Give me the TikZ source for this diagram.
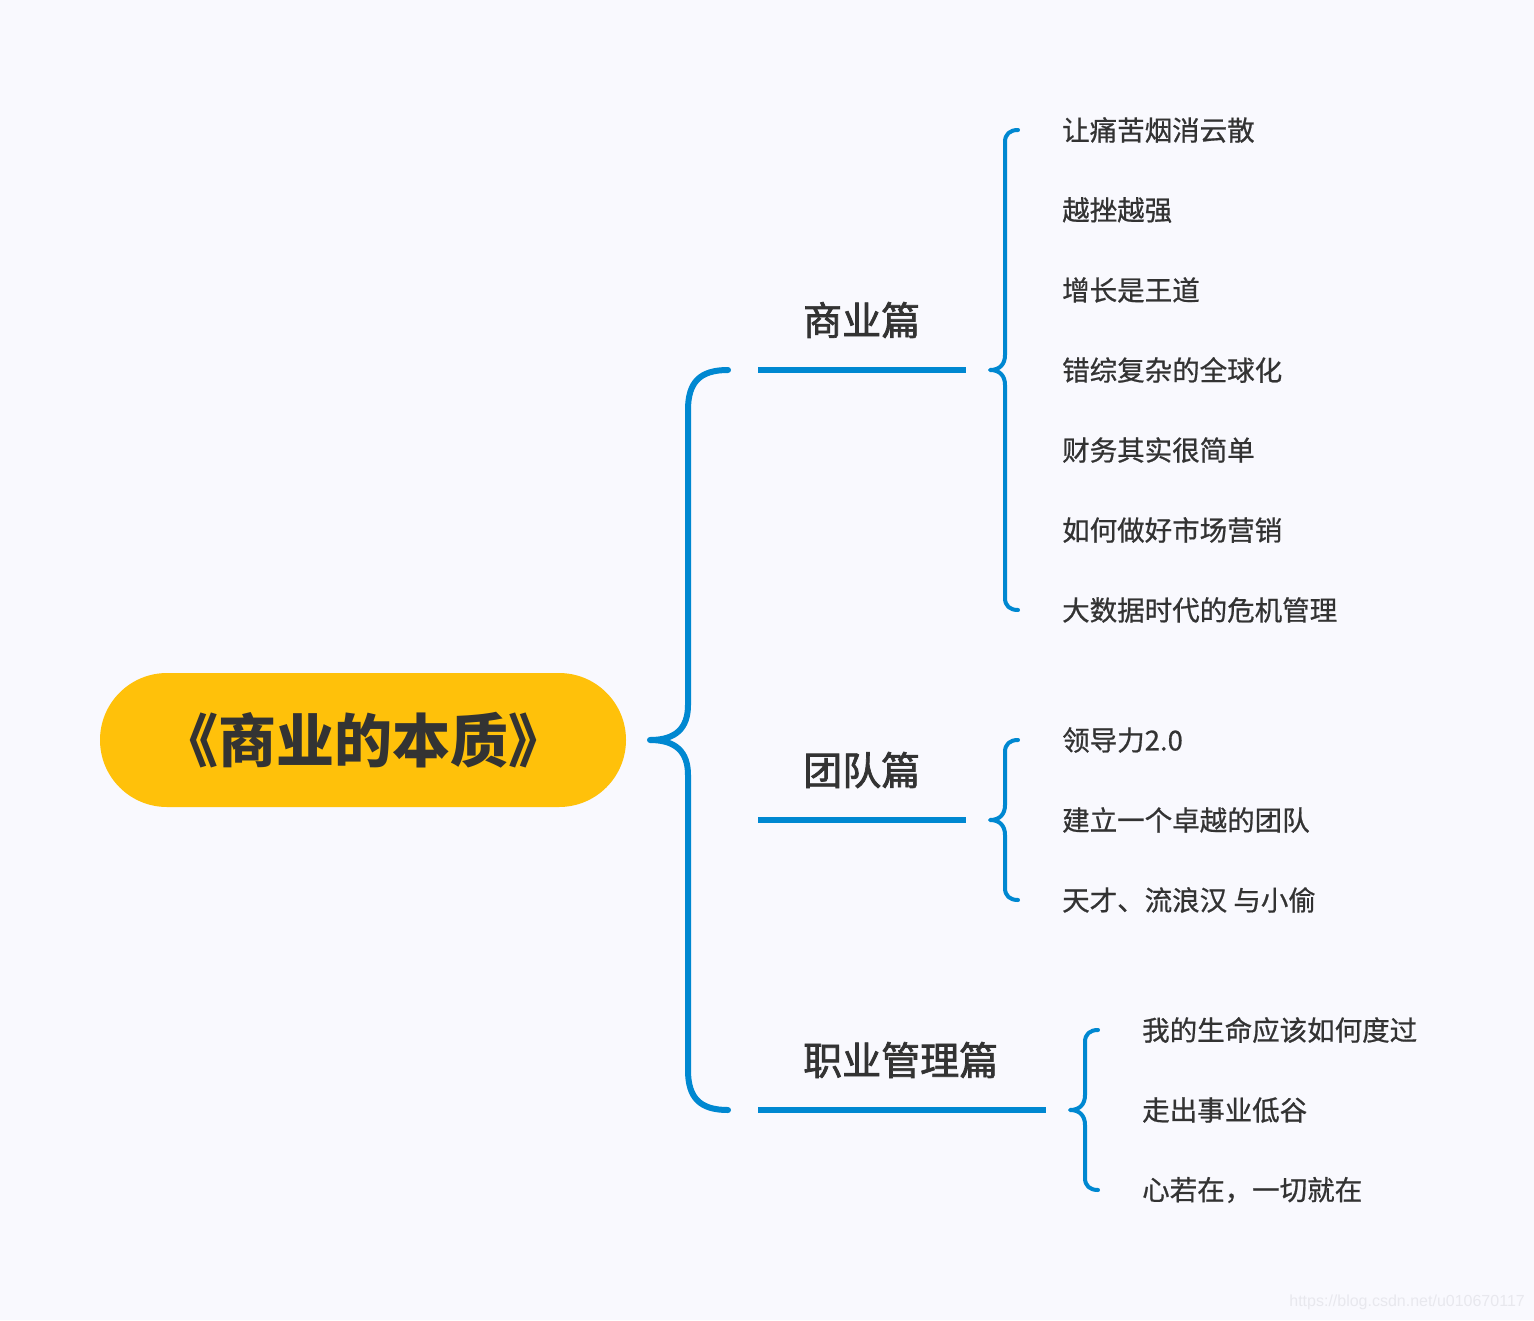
\documentclass[tikz,border=0pt]{standalone}
\usepackage{fontspec}
\newfontfamily\cjk{Noto Sans CJK SC}
\newfontfamily\cjkmed{Noto Sans CJK SC}[FakeBold=0.7]
\newfontfamily\cjksemi{Noto Sans CJK SC}[FakeBold=1.8]
\setsansfont{Liberation Sans}
\definecolor{bg}{HTML}{F9F9FE}
\definecolor{brblue}{HTML}{0088D1}
\definecolor{rootyel}{HTML}{FFC10A}
\definecolor{txt}{HTML}{333333}
\definecolor{wm}{HTML}{E8E8EE}
\begin{document}
\begin{tikzpicture}[x=1pt,y=-1pt,
  leaf/.style={anchor=west,inner sep=0pt,text=txt,font={\cjkmed\fontsize{27.5}{27.5}\selectfont}},
  branchlbl/.style={anchor=west,inner sep=0pt,text=txt,font={\cjksemi\fontsize{39}{39}\selectfont}},
  bigbrace/.style={draw=brblue,line width=6pt,line cap=round,line join=round},
  smallbrace/.style={draw=brblue,line width=4pt,line cap=round,line join=round},
  uline/.style={draw=brblue,line width=6pt}]
\fill[bg] (0,0) rectangle (1534,1320);
\useasboundingbox (0,0) rectangle (1534,1320);

% root
\node[fill=rootyel,rounded corners=67pt,minimum width=526pt,minimum height=134pt,inner sep=0pt,
  text=txt,font={\cjk\bfseries\fontsize{58}{58}\selectfont}] (root) at (363,740) {《商业的本质》};

% big brace
\coordinate (bt) at (650,740);
\coordinate (b1end) at (728,370);
\coordinate (b2end) at (728,1110);
\draw[bigbrace] (b1end) .. controls (700,370) and (688,382) .. (688,410) -- (688,705)
  .. controls (688,728) and (676,740) .. (bt)
  .. controls (676,740) and (688,752) .. (688,775) -- (688,1070)
  .. controls (688,1098) and (700,1110) .. (b2end);

% branch labels and underlines
\node[branchlbl] (b1) at (803,320) {商业篇};
\node[branchlbl] (b2) at (803,770) {团队篇};
\node[branchlbl] (b3) at (803,1060) {职业管理篇};
\coordinate (u1s) at (758,370); \coordinate (u1e) at (966,370);
\coordinate (u2s) at (758,820); \coordinate (u2e) at (966,820);
\coordinate (u3s) at (758,1110); \coordinate (u3e) at (1046,1110);
\draw[uline] (u1s) -- (u1e);
\draw[uline] (u2s) -- (u2e);
\draw[uline] (u3s) -- (u3e);

% brace 1
\coordinate (t1) at (990,370);
\draw[smallbrace] (1018,130) .. controls (1010,130) and (1005,134) .. (1005,142) -- (1005,355)
  .. controls (1005,364) and (1000,370) .. (t1)
  .. controls (1000,370) and (1005,376) .. (1005,385) -- (1005,598)
  .. controls (1005,606) and (1010,610) .. (1018,610);
\node[leaf] (l11) at (1062,130) {让痛苦烟消云散};
\node[leaf] (l12) at (1062,210) {越挫越强};
\node[leaf] (l13) at (1062,290) {增长是王道};
\node[leaf] (l14) at (1062,370) {错综复杂的全球化};
\node[leaf] (l15) at (1062,450) {财务其实很简单};
\node[leaf] (l16) at (1062,530) {如何做好市场营销};
\node[leaf] (l17) at (1062,610) {大数据时代的危机管理};

% brace 2
\coordinate (t2) at (990,820);
\draw[smallbrace] (1018,740) .. controls (1010,740) and (1005,744) .. (1005,752) -- (1005,805)
  .. controls (1005,814) and (1000,820) .. (t2)
  .. controls (1000,820) and (1005,826) .. (1005,835) -- (1005,888)
  .. controls (1005,896) and (1010,900) .. (1018,900);
\node[leaf] (l21) at (1062,740) {领导力2.0};
\node[leaf] (l22) at (1062,820) {建立一个卓越的团队};
\node[leaf] (l23) at (1062,900) {天才、流浪汉 与小偷};

% brace 3
\coordinate (t3) at (1070,1110);
\draw[smallbrace] (1098,1030) .. controls (1090,1030) and (1085,1034) .. (1085,1042) -- (1085,1095)
  .. controls (1085,1104) and (1080,1110) .. (t3)
  .. controls (1080,1110) and (1085,1116) .. (1085,1125) -- (1085,1178)
  .. controls (1085,1186) and (1090,1190) .. (1098,1190);
\node[leaf] (l31) at (1142,1030) {我的生命应该如何度过};
\node[leaf] (l32) at (1142,1110) {走出事业低谷};
\node[leaf] (l33) at (1142,1190) {心若在，一切就在};

% watermark
\node[anchor=east,inner sep=0pt,text=wm,font={\sffamily\fontsize{16}{16}\selectfont}] (wmk) at (1525,1302) {https://blog.csdn.net/u010670117};
\end{tikzpicture}
\end{document}
